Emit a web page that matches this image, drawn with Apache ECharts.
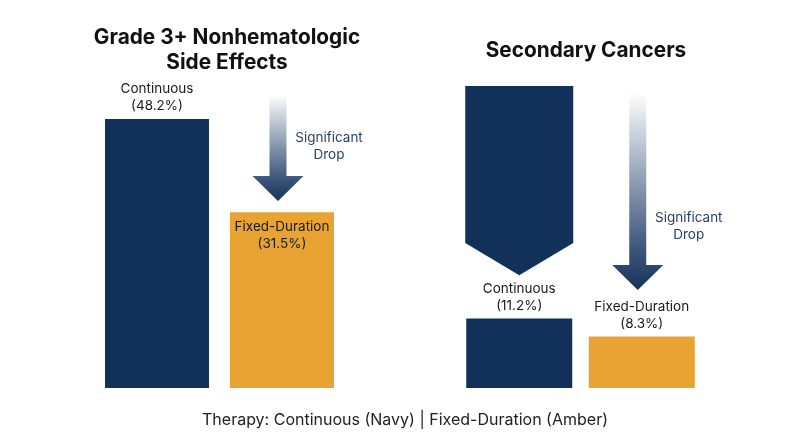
<!DOCTYPE html>
<html>
<head>
<meta charset="utf-8">
<script src="https://cdn.jsdelivr.net/npm/echarts@6/dist/echarts.min.js"></script>
<style>html,body{margin:0;padding:0;background:#fff}#c{width:800px;height:447px}</style>
</head>
<body>
<div id="c"></div>
<script>
// ---- data ----
var categories = ['Continuous', 'Fixed-Duration'];
var sideEffectsValues = [48.2, 31.5];
var secondaryCancerValues = [11.2, 8.3];
var panelTitles = ['Grade 3+ Nonhematologic\nSide Effects', 'Secondary Cancers'];
var footerText = 'Therapy: Continuous (Navy) | Fixed-Duration (Amber)';
var arrowText = 'Significant\nDrop';
// drop arrows: [categoryIndex, fromValue, toValue, textValue]
var sideEffectsArrow = [[1, 52.5, 33.5, 43.2]];
var secondaryArrow = [[1, 47.6, 15.8, 26.1]];
// decorative chevron block above Continuous (secondary): [cat, top, shoulder, tip]
var secondaryChevron = [[0, 48.7, 23.4, 18.2]];

var NAVY = '#11305a';
var AMBER = '#e8a333';
var FONT = 'Inter, Roboto, sans-serif';

function barData(vals) {
  return vals.map(function (v, i) {
    return { value: v, itemStyle: { color: i === 0 ? NAVY : AMBER } };
  });
}
function lbl(name, v) { return name + '\n(' + v + '%)'; }

function arrowRender(params, api) {
  var x = api.value(0);
  var top = api.coord([x, api.value(1)]);
  var tip = api.coord([x, api.value(2)]);
  var txt = api.coord([x, api.value(3)]);
  var cx = top[0] - 4;
  var sw = 8.5, hw = 25.5, hh = 25;
  var pts = [
    [cx - sw, top[1]], [cx + sw, top[1]], [cx + sw, tip[1] - hh], [cx + hw, tip[1] - hh],
    [cx, tip[1]], [cx - hw, tip[1] - hh], [cx - sw, tip[1] - hh]
  ];
  return {
    type: 'group',
    children: [
      {
        type: 'polygon',
        shape: { points: pts },
        style: {
          fill: {
            type: 'linear', x: 0, y: 0, x2: 0, y2: 1,
            colorStops: [
              { offset: 0, color: '#ffffff' },
              { offset: 0.45, color: '#8d9db3' },
              { offset: 0.8, color: '#3b5479' },
              { offset: 1, color: '#17335b' }
            ]
          }
        }
      },
      {
        type: 'text',
        x: cx + 51, y: txt[1],
        style: {
          text: arrowText, fill: '#2b4266', font: '13.5px ' + FONT,
          align: 'center', verticalAlign: 'middle', lineHeight: 17
        }
      }
    ]
  };
}

function chevronRender(params, api) {
  var x = api.value(0);
  var t = api.coord([x, api.value(1)]);
  var s = api.coord([x, api.value(2)]);
  var p = api.coord([x, api.value(3)]);
  var cx = t[0], hw = 54;
  return {
    type: 'polygon',
    shape: { points: [[cx - hw, t[1]], [cx + hw, t[1]], [cx + hw, s[1]], [cx, p[1]], [cx - hw, s[1]]] },
    style: { fill: NAVY }
  };
}

var chart = echarts.init(document.getElementById('c'));
chart.setOption({
  animation: false,
  backgroundColor: '#ffffff',
  title: [
    { text: panelTitles[0], left: 222, top: 20, textAlign: 'center',
      textStyle: { fontFamily: FONT, fontSize: 20.8, fontWeight: 'bold', color: '#111', lineHeight: 25 } },
    { text: panelTitles[1], left: 581, top: 35, textAlign: 'center',
      textStyle: { fontFamily: FONT, fontSize: 20.8, fontWeight: 'bold', color: '#111' } },
    { text: footerText, left: 400, top: 407, textAlign: 'center',
      textStyle: { fontFamily: FONT, fontSize: 16, fontWeight: 'normal', color: '#222' } }
  ],
  grid: [
    { left: 94.5, width: 250, top: 53, bottom: 59 },
    { left: 458, width: 245, top: 16, bottom: 59 }
  ],
  xAxis: [
    { type: 'category', data: categories, gridIndex: 0, show: false },
    { type: 'category', data: categories, gridIndex: 1, show: false }
  ],
  yAxis: [
    { type: 'value', gridIndex: 0, min: 0, max: 60, show: false, splitLine: { show: false } },
    { type: 'value', gridIndex: 1, min: 0, max: 60, show: false, splitLine: { show: false } }
  ],
  series: [
    {
      type: 'bar', xAxisIndex: 0, yAxisIndex: 0, barWidth: 104,
      data: barData(sideEffectsValues).map(function (d, i) {
        d.label = i === 0
          ? { show: true, position: 'top', distance: 4 }
          : { show: true, position: 'insideTop', distance: 6 };
        return d;
      }),
      label: {
        fontFamily: FONT, fontSize: 13.5, lineHeight: 17, color: '#1a1a1a',
        formatter: function (p) { return lbl(categories[p.dataIndex], p.value); }
      }
    },
    {
      type: 'bar', xAxisIndex: 1, yAxisIndex: 1, barWidth: 106,
      data: barData(secondaryCancerValues),
      label: {
        show: true, position: 'top', distance: 4,
        fontFamily: FONT, fontSize: 13.5, lineHeight: 17, color: '#1a1a1a',
        formatter: function (p) { return lbl(categories[p.dataIndex], p.value); }
      }
    },
    { type: 'custom', xAxisIndex: 0, yAxisIndex: 0, data: sideEffectsArrow, renderItem: arrowRender, z: 5 },
    { type: 'custom', xAxisIndex: 1, yAxisIndex: 1, data: secondaryArrow, renderItem: arrowRender, z: 5 },
    { type: 'custom', xAxisIndex: 1, yAxisIndex: 1, data: secondaryChevron, renderItem: chevronRender }
  ]
});
</script>
</body>
</html>
